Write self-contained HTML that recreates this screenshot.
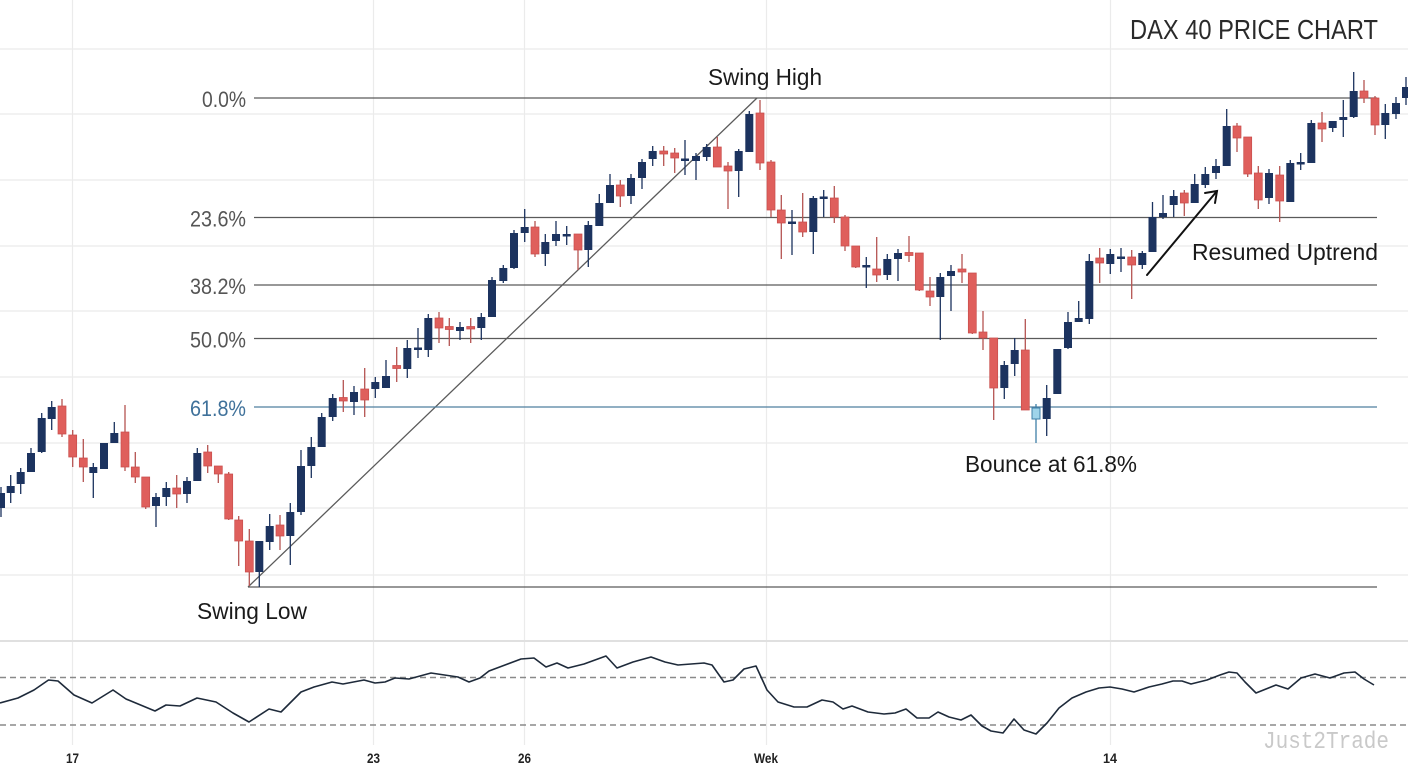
<!DOCTYPE html>
<html><head><meta charset="utf-8"><style>
html,body{margin:0;padding:0;background:#fff;}
svg{display:block;}
text{font-family:"Liberation Sans","DejaVu Sans",sans-serif;}
</style></head><body>
<svg width="1408" height="768" viewBox="0 0 1408 768" xmlns="http://www.w3.org/2000/svg">
<rect width="1408" height="768" fill="#fff"/>
<!-- grid -->
<g stroke="#ebebeb" stroke-width="1.2">
<path d="M0 49H1408M0 114H1408M0 180H1408M0 246H1408M0 311H1408M0 377H1408M0 443H1408M0 508H1408M0 575H1408"/>
<path d="M72.5 0V745M373.5 0V745M524.5 0V745M766.5 0V745M1110.5 0V745"/>
</g>
<path d="M0 641H1408" stroke="#e0e0e0" stroke-width="2"/>
<!-- fib lines -->
<g stroke="#5a5a5a" stroke-width="1.3" fill="none">
<path d="M254 98H1377M254 217.5H1377M254 285H1377M254 338.5H1377M248 587H1377"/>
<path d="M248 587L757 98"/>
</g>
<path d="M254 407H1377" stroke="#4f7f9f" stroke-width="1.3"/>
<!-- fib labels -->
<g font-size="22" fill="#555">
<text x="202" y="107" textLength="44" lengthAdjust="spacingAndGlyphs">0.0%</text>
<text x="190" y="226.5" textLength="56" lengthAdjust="spacingAndGlyphs">23.6%</text>
<text x="190" y="294" textLength="56" lengthAdjust="spacingAndGlyphs">38.2%</text>
<text x="190" y="347.5" textLength="56" lengthAdjust="spacingAndGlyphs">50.0%</text>
<text x="190" y="416" textLength="56" lengthAdjust="spacingAndGlyphs" fill="#3f719a">61.8%</text>
</g>
<!-- navy wicks -->
<path stroke="#1c335f" stroke-width="1.3" fill="none" d="M1 487V517M10.7 475V503M20.7 468V494M31 448V472M41.7 413V453M51.7 401V430M93.3 463V498M104 443V469M114.3 422V443M156 493V527M166.3 482V506M187 477V503M197.3 448V481M259.3 541V587M269.7 514V550M290.3 503V565M301 450V515M311.3 437V478M321.7 413V447M332.7 394V421M354 386V415M375.3 377V398M386 360V388M407.3 340V378M418 328V358M428.3 314V357M460 322V340M481.3 313V340M492 277V317M503.3 265V283M514 230V269M524.7 209V242M545.3 234V266M556 221V246M566.7 226V245M588.3 221V267M599.3 194V226M610 174V203M631 174V204M642 159V189M652.7 146V166M685 140V175M696 153V180M706.7 144V161M738.7 149V197M749.3 111V152M792 210V255M813.3 196V254M823.7 190V217M866.3 257V288M887.3 254V280M898 249V281M940.3 273V340M951 265V311M1004.3 361V399M1014.7 338V376M1046.7 385V436M1057.3 349V394M1068 312V349M1078.7 301V322M1089.3 254V324M1110.3 249V274M1121 248V272M1142.3 251V269M1152.5 202V252M1163 195V219M1173.7 190V217M1194.7 174V203M1205.3 167V188M1216 159V179M1226.7 109V166M1269 169V204M1290.3 160V202M1300.7 153V170M1311.3 120V163M1332.7 121V132M1343.3 100V137M1353.7 72V118M1385.3 104V139M1396 97V119M1406 77V105"/>
<!-- red wicks -->
<path stroke="#b55452" stroke-width="1.3" fill="none" d="M62 399V437M72.7 430V467M83.3 439V482M125 405V471M135.3 452V483M145.7 477V509M176.7 475V508M207.7 445V473M218.3 466V483M228.7 472V520M238.7 516V566M249.3 529V586M280 515V550M343.3 380V412M364.7 368V417M396.7 347V382M439 312V343M449.3 318V346M470.7 318V343M535 221V257M578 234V270M620.3 180V207M663.7 146V166M674.7 148V173M717.3 137V167M728 162V209M760 100V170M771 160V217M781.3 195V259M802.7 193V237M834.3 186V223M845 215V251M855.7 246V268M876.7 237V282M909 236V262M919.3 253V291M930 277V306M962 254V283M972.3 273V334M983 311V350M993.7 338V420M1025.3 319V410M1099.7 248V283M1131.7 250V299M1184.3 190V216M1237 123V152M1247.7 137V177M1258.3 166V209M1279.7 166V222M1322 112V142M1364 80V103M1375 96V135"/>
<!-- navy bodies -->
<path transform="translate(-0.5,0)" fill="#1c335f" d="M-2.5 493h8V508h-8ZM7.2 486h8V493h-8ZM17.2 472h8V484h-8ZM27.5 453h8V472h-8ZM38.2 418h8V452h-8ZM48.2 407h8V419h-8ZM89.8 467h8V473h-8ZM100.5 443h8V469h-8ZM110.8 433h8V443h-8ZM152.5 497h8V506h-8ZM162.8 488h8V497h-8ZM183.5 481h8V494h-8ZM193.8 453h8V481h-8ZM255.8 541h8V572h-8ZM266.2 526h8V542h-8ZM286.8 512h8V536h-8ZM297.5 466h8V512h-8ZM307.8 447h8V466h-8ZM318.2 417h8V447h-8ZM329.2 398h8V417h-8ZM350.5 392h8V402h-8ZM371.8 382h8V389h-8ZM382.5 376h8V388h-8ZM403.8 348h8V369h-8ZM414.5 347.5h8V350h-8ZM424.8 318h8V350h-8ZM456.5 327h8V331h-8ZM477.8 317h8V328h-8ZM488.5 280h8V317h-8ZM499.8 268h8V281h-8ZM510.5 233h8V268h-8ZM521.2 227h8V233h-8ZM541.8 242h8V254h-8ZM552.5 234h8V241h-8ZM563.2 234h8V236.5h-8ZM584.8 225h8V250h-8ZM595.8 203h8V226h-8ZM606.5 185h8V203h-8ZM627.5 178h8V196h-8ZM638.5 162h8V178h-8ZM649.2 151h8V159h-8ZM681.5 158.5h8V161h-8ZM692.5 156h8V161h-8ZM703.2 147h8V157h-8ZM735.2 151h8V171h-8ZM745.8 114h8V152h-8ZM788.5 221.5h8V224h-8ZM809.8 198h8V232h-8ZM820.2 196.5h8V199h-8ZM862.8 265h8V267.5h-8ZM883.8 259h8V275h-8ZM894.5 253h8V259h-8ZM936.8 277h8V297h-8ZM947.5 271h8V276h-8ZM1000.8 365h8V388h-8ZM1011.2 350h8V364h-8ZM1043.2 398h8V419h-8ZM1053.8 349h8V394h-8ZM1064.5 322h8V348h-8ZM1075.2 318h8V322h-8ZM1085.8 261h8V319h-8ZM1106.8 254h8V264h-8ZM1117.5 256.5h8V259h-8ZM1138.8 253h8V265h-8ZM1149 217h8V252h-8ZM1159.5 213h8V217h-8ZM1170.2 196h8V205h-8ZM1191.2 184h8V203h-8ZM1201.8 174h8V185h-8ZM1212.5 166h8V173h-8ZM1223.2 126h8V166h-8ZM1265.5 173h8V198h-8ZM1286.8 163h8V202h-8ZM1297.2 162h8V164.5h-8ZM1307.8 123h8V163h-8ZM1329.2 121h8V128h-8ZM1339.8 117h8V120h-8ZM1350.2 91h8V117h-8ZM1381.8 113h8V125h-8ZM1392.5 103h8V114h-8ZM1402.5 87h8V98h-8Z"/>
<!-- red bodies -->
<path transform="translate(-0.5,0)" fill="#df5f5c" stroke="#c94e4c" stroke-width="0.7" d="M58.5 406h8V434h-8ZM69.2 435h8V457h-8ZM79.8 458h8V467h-8ZM121.5 432h8V467h-8ZM131.8 467h8V477h-8ZM142.2 477h8V507h-8ZM173.2 488h8V494h-8ZM204.2 452h8V466h-8ZM214.8 466h8V474h-8ZM225.2 474h8V519h-8ZM235.2 520h8V541h-8ZM245.8 541h8V572h-8ZM276.5 525h8V536h-8ZM339.8 397.5h8V401h-8ZM361.2 389h8V400h-8ZM393.2 365.5h8V368.5h-8ZM435.5 318h8V328h-8ZM445.8 326.5h8V329.5h-8ZM467.2 326.5h8V329h-8ZM531.5 227h8V254h-8ZM574.5 234h8V250h-8ZM616.8 185h8V196h-8ZM660.2 151h8V154h-8ZM671.2 153h8V158h-8ZM713.8 147h8V167h-8ZM724.5 166h8V171h-8ZM756.5 113h8V163h-8ZM767.5 162h8V210h-8ZM777.8 210h8V223h-8ZM799.2 222h8V232h-8ZM830.8 198h8V217h-8ZM841.5 217h8V246h-8ZM852.2 246h8V267h-8ZM873.2 269h8V275h-8ZM905.5 252.5h8V255.5h-8ZM915.8 253h8V290h-8ZM926.5 291h8V297h-8ZM958.5 269h8V272h-8ZM968.8 273h8V333h-8ZM979.5 332h8V338h-8ZM990.2 338h8V388h-8ZM1021.8 350h8V410h-8ZM1096.2 258h8V263h-8ZM1128.2 257h8V265h-8ZM1180.8 193h8V203h-8ZM1233.5 126h8V138h-8ZM1244.2 137h8V174h-8ZM1254.8 173h8V200h-8ZM1276.2 175h8V201h-8ZM1318.5 123h8V129h-8ZM1360.5 91h8V98h-8ZM1371.5 98h8V125h-8Z"/>
<!-- light blue bounce candle -->
<path d="M1036 404V443" stroke="#3f7fa8" stroke-width="1.3"/>
<rect x="1032" y="408" width="8" height="11" fill="#9fd4ea" stroke="#3f7fa8" stroke-width="1"/>
<!-- arrow -->
<g stroke="#111" stroke-width="2" fill="none" stroke-linecap="round">
<path d="M1147 275L1217 191"/>
<path d="M1205 193L1217 191L1215 203"/>
</g>
<!-- annotations -->
<g fill="#1a1a1a" font-size="23">
<text x="708" y="85" textLength="114" lengthAdjust="spacingAndGlyphs">Swing High</text>
<text x="197" y="619" textLength="110" lengthAdjust="spacingAndGlyphs">Swing Low</text>
<text x="965" y="472" textLength="172" lengthAdjust="spacingAndGlyphs">Bounce at 61.8%</text>
<text x="1192" y="260" textLength="186" lengthAdjust="spacingAndGlyphs">Resumed Uptrend</text>
</g>
<text x="1130" y="39" font-size="28" fill="#2a2a2a" textLength="248" lengthAdjust="spacingAndGlyphs">DAX 40 PRICE CHART</text>
<!-- indicator -->
<g stroke="#8a8a8a" stroke-width="1.5" stroke-dasharray="6 4">
<path d="M0 677.5H1408M0 725H1408"/>
</g>
<polyline fill="none" stroke="#1e2a3a" stroke-width="1.6" stroke-linejoin="round" points="0,703 18,698 34,690 48.5,680 58,681 74,695 92,703 113,690 126,699 155,711 166,705 180,706 197,698 216,702 233,713 249,722 269,709 281,712 301,692 314,687 332,682 343,684 364,680 375,683 385,682 395,678 409,679 431,673 458,677 469,682 480,678 489,671 505,665 521,659 534,658 546,667 557,663 568,668 584,664 606,656 617,668 633,662 651,657 665,662 678,665 704,663 712,665 724,682 733,680 744,669 756,666 767,690 778,702 794,707 807,707 822,700 833,702 843,709 852,706 868,712 884,714 895,713 906,709 917,718 929,718 938,712 949,717 961,720 971,715 982,726 991,731 1003,733 1014,719 1024,730 1036,734 1047,723 1059,708 1072,698 1086,692 1099,688 1110,687 1122,689 1134,692 1149,687 1162,684 1173,681 1182,681 1191,684 1207,680 1220,675 1229,672 1237,673 1245,682 1256,693 1276,685 1288,689 1301,678 1315,674 1330,678 1344,673 1355,672 1364,679 1374,685"/>
<!-- x tick labels -->
<g font-size="14" fill="#222" style="font-weight:600">
<text x="66" y="763" textLength="13" lengthAdjust="spacingAndGlyphs">17</text>
<text x="367" y="763" textLength="13" lengthAdjust="spacingAndGlyphs">23</text>
<text x="518" y="763" textLength="13" lengthAdjust="spacingAndGlyphs">26</text>
<text x="754" y="763" textLength="24" lengthAdjust="spacingAndGlyphs">Wek</text>
<text x="1103" y="763" textLength="14" lengthAdjust="spacingAndGlyphs">14</text>
</g>
<text x="1263" y="748" style="font-family:'Liberation Mono','DejaVu Sans Mono',monospace" font-size="24" fill="#c9c9c9" textLength="126" lengthAdjust="spacingAndGlyphs">Just2Trade</text>
</svg>
</body></html>
